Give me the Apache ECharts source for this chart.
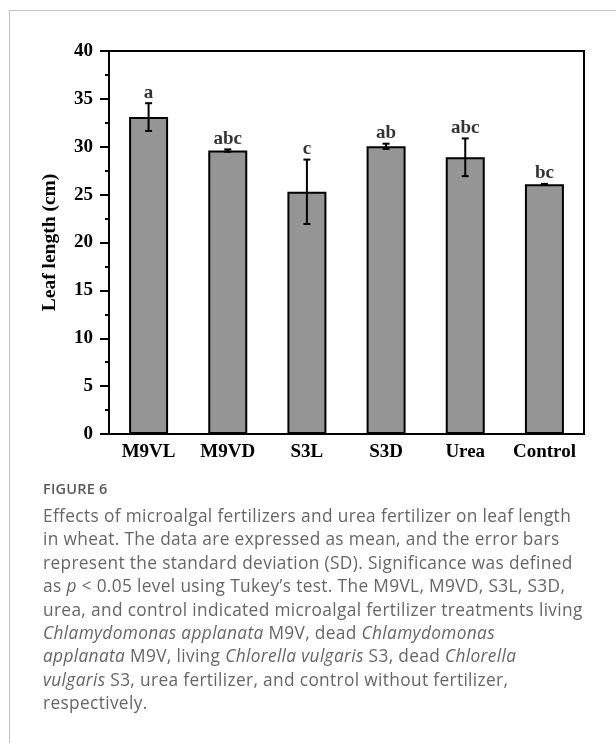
<!DOCTYPE html>
<html>
<head>
<meta charset="utf-8">
<script src="https://cdn.jsdelivr.net/npm/echarts@6/dist/echarts.min.js"></script>
<style>
  html, body { margin: 0; padding: 0; background: #fff; }
  #card {
    position: absolute; left: 9px; top: 10px; width: 620px; height: 760px;
    border-top: 1px solid #c4c4c4; border-left: 1px solid #c4c4c4;
  }
  #chart { position: absolute; left: 0; top: 0; width: 616px; height: 743px; }
  #caption {
    position: absolute; left: 43px; top: 479px; width: 570px;
    font-family: 'Open Sans', 'Noto Sans', sans-serif; color: #666;
  }
  #caption .head { font-size: 14.5px; font-weight: 600; color: #595959; letter-spacing: 0.2px; line-height: 20px; }
  #caption .body { font-size: 17.3px; letter-spacing: 0.35px; line-height: 23.4px; white-space: nowrap; margin-top: 5px; }
</style>
</head>
<body>
<div id="card"></div>
<div id="chart"></div>
<div id="caption">
  <div class="head">FIGURE 6</div>
  <div class="body">
    Effects of microalgal fertilizers and urea fertilizer on leaf length<br>
    in wheat. The data are expressed as mean, and the error bars<br>
    represent the standard deviation (SD). Significance was defined<br>
    as <i>p</i> &lt; 0.05 level using Tukey’s test. The M9VL, M9VD, S3L, S3D,<br>
    urea, and control indicated microalgal fertilizer treatments living<br>
    <i>Chlamydomonas applanata</i> M9V, dead <i>Chlamydomonas</i><br>
    <i>applanata</i> M9V, living <i>Chlorella vulgaris</i> S3, dead <i>Chlorella</i><br>
    <i>vulgaris</i> S3, urea fertilizer, and control without fertilizer,<br>
    respectively.
  </div>
</div>
<script>
const categories = ['M9VL', 'M9VD', 'S3L', 'S3D', 'Urea', 'Control']
const means = [33.1, 29.6, 25.3, 30.05, 28.9, 26.08]
const sds = [1.45, 0.12, 3.36, 0.27, 1.97, 0.04]
const letters = ['a', 'abc', 'c', 'ab', 'abc', 'bc']

const serif = 'Liberation Serif, Times New Roman, serif'

const errData = means.map((m, i) => [i, m - sds[i], m + sds[i]])
const letterData = means.map((m, i) => [i, m + sds[i]])

const chart = echarts.init(document.getElementById('chart'), null, { renderer: 'canvas' })

chart.setOption({
  animation: false,
  grid: {
    left: 109,
    right: 32,
    top: 51,
    bottom: 309,
    show: true,
    borderColor: '#000',
    borderWidth: 2,
  },
  xAxis: {
    type: 'category',
    data: categories,
    axisLine: { lineStyle: { color: '#000', width: 2 } },
    axisTick: { show: false },
    axisLabel: {
      interval: 0,
      color: '#000',
      fontFamily: serif,
      fontWeight: 'bold',
      fontSize: 19,
      margin: 9,
    },
  },
  yAxis: {
    type: 'value',
    min: 0,
    max: 40,
    interval: 5,
    name: 'Leaf length (cm)',
    nameLocation: 'middle',
    nameGap: 49,
    nameTextStyle: {
      color: '#000',
      fontFamily: serif,
      fontWeight: 'bold',
      fontSize: 19.5,
    },
    splitLine: { show: false },
    axisLine: { show: true, lineStyle: { color: '#000', width: 2 } },
    axisTick: { show: true, length: 9, lineStyle: { color: '#000', width: 2 } },
    minorTick: { show: true, splitNumber: 2, length: 4, lineStyle: { color: '#000', width: 2 } },
    axisLabel: {
      color: '#000',
      fontFamily: serif,
      fontWeight: 'bold',
      fontSize: 19,
      margin: 16,
    },
  },
  series: [
    {
      type: 'bar',
      data: means,
      barWidth: 39,
      itemStyle: {
        color: '#959595',
        borderColor: '#000',
        borderWidth: 2,
      },
      z: 2,
    },
    {
      type: 'custom',
      data: errData,
      z: 3,
      renderItem(params, api) {
        const x = api.value(0)
        const lo = api.coord([x, api.value(1)])
        const hi = api.coord([x, api.value(2)])
        const cap = 3.5
        const style = { stroke: '#000', lineWidth: 2 }
        return {
          type: 'group',
          children: [
            { type: 'line', shape: { x1: lo[0], y1: lo[1], x2: hi[0], y2: hi[1] }, style },
            { type: 'line', shape: { x1: hi[0] - cap, y1: hi[1], x2: hi[0] + cap, y2: hi[1] }, style },
            { type: 'line', shape: { x1: lo[0] - cap, y1: lo[1], x2: lo[0] + cap, y2: lo[1] }, style },
          ],
        }
      },
    },
    {
      type: 'scatter',
      data: letterData,
      symbolSize: 0,
      z: 4,
      label: {
        show: true,
        position: 'top',
        distance: 1,
        color: '#000',
        fontFamily: serif,
        fontWeight: 'bold',
        fontSize: 19,
        formatter: p => letters[p.dataIndex],
      },
    },
  ],
})
</script>
</body>
</html>
